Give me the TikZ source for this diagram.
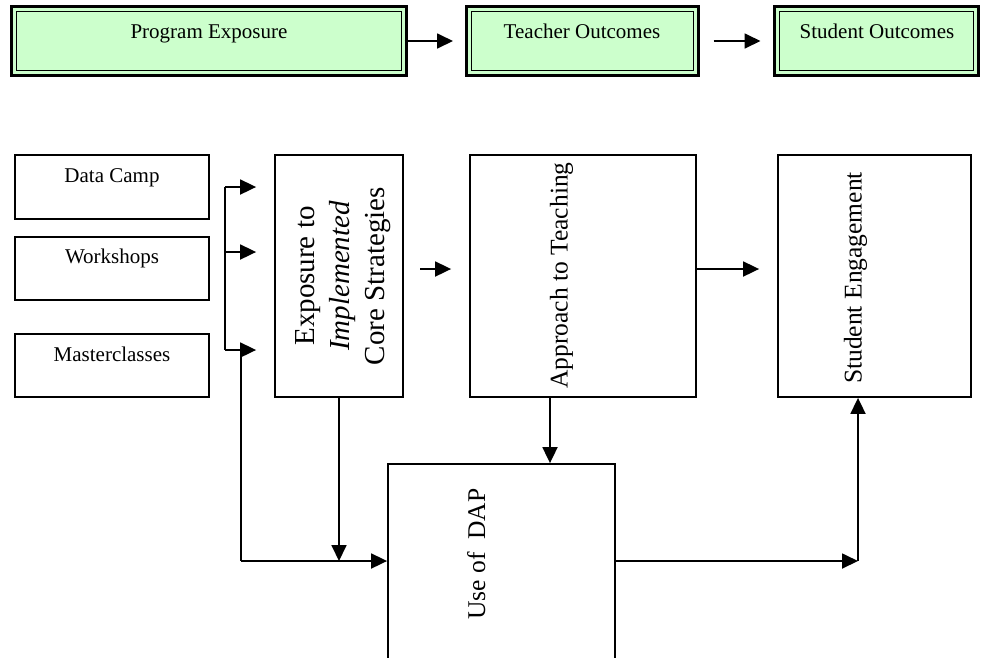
\documentclass[tikz,border=0pt]{standalone}
\usepackage{fontspec}
\setmainfont{Liberation Serif}
\usetikzlibrary{arrows.meta}
\definecolor{boxgreen}{HTML}{CCFFCC}
\tikzset{
  x=1pt, y=-1pt,
  conn/.style={line width=1.8pt},
  arr/.style={line width=1.8pt, -{Triangle[length=16pt,width=15pt]}},
  topbox/.style={draw, line width=3pt, fill=boxgreen, inner sep=0pt},
  plainbox/.style={draw, line width=1.8pt, inner sep=0pt},
  toptext/.style={font=\fontsize{21}{25}\selectfont, anchor=base, inner sep=0pt},
  smalltext/.style={font=\fontsize{21}{25}\selectfont, anchor=base, inner sep=0pt},
  vtext/.style={font=\fontsize{25.5}{30}\selectfont, rotate=90, anchor=base, inner sep=0pt},
}
\begin{document}
\begin{tikzpicture}
\useasboundingbox (0,0) rectangle (982,657);
\clip (0,0) rectangle (982,657);
\fill[white] (0,0) rectangle (982,657);

% ---- top row ----
\node[topbox, minimum width=395pt, minimum height=69pt] (pe) at (209,41) {};
\node[topbox, minimum width=232pt, minimum height=69pt] (to) at (582.5,41) {};
\node[topbox, minimum width=204pt, minimum height=69pt] (so) at (876.5,41) {};
\foreach \n in {pe,to,so}{
  \draw[line width=1.8pt] ([shift={(6.5pt,-6.5pt)}]\n.north west) rectangle ([shift={(-6.5pt,6.5pt)}]\n.south east);
}
\node[toptext] (pet) at (209,38) {Program Exposure};
\node[toptext] (tot) at (582,38) {Teacher Outcomes};
\node[toptext] (sot) at (877,38) {Student Outcomes};

\draw[arr, shorten <=-3.5pt, shorten >=12pt] (pe.east) -- (to.west);
\draw[arr, shorten <=13.5pt, shorten >=12.5pt] (to.east) -- (so.west);

% ---- left boxes ----
\node[plainbox, minimum width=194pt, minimum height=64pt] (dc) at (112,187) {};
\node[plainbox, minimum width=194pt, minimum height=63pt] (ws) at (112,268.5) {};
\node[plainbox, minimum width=194pt, minimum height=63pt] (mc) at (112,365.5) {};
\node[smalltext] (dct) at (112,182) {Data Camp};
\node[smalltext] (wst) at (112,263) {Workshops};
\node[smalltext] (mct) at (112,361) {Masterclasses};

% ---- main boxes ----
\node[plainbox, minimum width=128pt, minimum height=242pt] (ex) at (339,276) {};
\node[plainbox, minimum width=226pt, minimum height=242pt] (ap) at (583,276) {};
\node[plainbox, minimum width=193pt, minimum height=242pt] (se) at (874.5,276) {};
\node[plainbox, minimum width=227pt, minimum height=260pt] (dap) at (501.5,594) {};

\node[font=\fontsize{29}{35}\selectfont, rotate=90, align=center, inner sep=0pt] (ext) at (343,276)
  {Exposure to\\\textit{Implemented}\\Core Strategies};
\node[vtext] (apt) at (567.5,275.5) {Approach to Teaching};
\node[vtext] (set) at (861.5,278) {Student Engagement};
\node[vtext] (dapt) at (485,554) {Use of\ \ DAP};

% ---- bracket from the three sources ----
\coordinate (b1) at (225,187);
\coordinate (b2) at (225,252);
\coordinate (b3) at (225,350);
\coordinate (m3) at (241,350);
\coordinate (m4) at (241,561);
\draw[conn] (b1) -- (b3);
\draw[arr, shorten >=18pt] (b1) -- (b1 -| ex.west);
\draw[arr, shorten >=18pt] (b2) -- (b2 -| ex.west);
\draw[arr, shorten >=18pt] (b3) -- (b3 -| ex.west);
\draw[conn] (m3) -- (m4);
\draw[arr] (m4) -- (m4 -| dap.west);

% ---- exposure down ----
\coordinate (e4) at (339,561);
\draw[arr] (ex.south) -- (e4);

% ---- exposure to approach ----
\coordinate (ea) at (420,269);
\draw[arr, shorten >=18pt] (ea) -- (ea -| ap.west);

% ---- approach down to DAP ----
\coordinate (ad) at (550,397);
\draw[arr] (ad) -- (ad |- dap.north);

% ---- approach to engagement ----
\coordinate (as) at (696,269);
\draw[arr, shorten >=18pt] (as) -- (as -| se.west);

% ---- DAP to engagement ----
\coordinate (dr) at (615,561);
\coordinate (cr) at (858,561);
\draw[arr] (dr) -- (cr);
\draw[arr] (cr) -- (cr |- se.south);
\end{tikzpicture}
\end{document}
